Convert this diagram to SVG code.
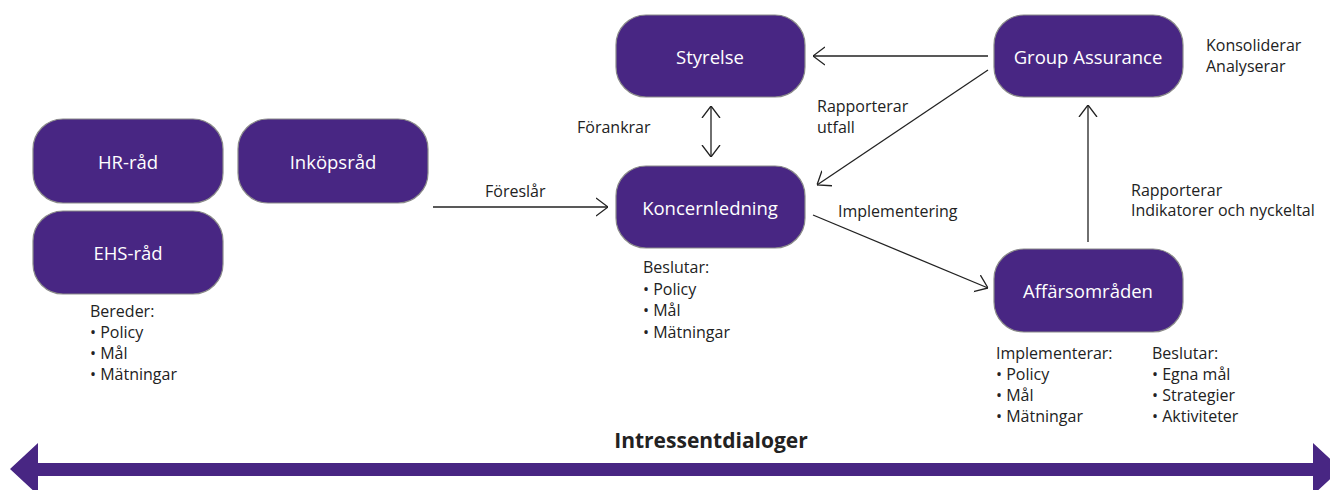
<svg xmlns="http://www.w3.org/2000/svg" width="1330" height="490" viewBox="0 0 1330 490">
<style>
.node rect{fill:#482683;stroke:#8a8a8a;stroke-width:1.2}
.node text{fill:#ffffff;font-family:"Open Sans","Liberation Sans",sans-serif;font-size:18.5px;text-anchor:middle;dominant-baseline:central}
.lbl{fill:#222222;font-family:"Open Sans","Liberation Sans",sans-serif;font-size:16px}
.conn line{stroke:#222222;stroke-width:1.3;fill:none}
.title{fill:#222222;font-family:"Open Sans","Liberation Sans",sans-serif;font-size:21px;font-weight:bold;text-anchor:middle}
</style>
<defs>
<marker id="ah" markerUnits="userSpaceOnUse" viewBox="0 0 12 20" refX="12" refY="10" markerWidth="12" markerHeight="20" orient="auto-start-reverse">
<path d="M0,1 L12,10 L0,19" fill="none" stroke="#222222" stroke-width="1.3"/>
</marker>
</defs>
<rect width="1330" height="490" fill="#ffffff"/>

<g id="hr-rad" class="node"><rect x="33" y="119" width="190" height="84" rx="30"/><text x="128" y="161">HR-råd</text></g>
<g id="inkopsrad" class="node"><rect x="238" y="119" width="190" height="84" rx="30"/><text x="333" y="161">Inköpsråd</text></g>
<g id="ehs-rad" class="node"><rect x="33" y="211" width="190" height="83" rx="30"/><text x="128" y="252">EHS-råd</text></g>
<g id="styrelse" class="node"><rect x="616" y="15" width="189" height="82" rx="30"/><text x="710" y="56">Styrelse</text></g>
<g id="koncernledning" class="node"><rect x="616" y="166" width="189" height="82" rx="30"/><text x="710" y="207">Koncernledning</text></g>
<g id="group-assurance" class="node"><rect x="994" y="15" width="189" height="82" rx="30"/><text x="1088" y="56">Group Assurance</text></g>
<g id="affarsomraden" class="node"><rect x="994" y="249" width="189" height="83" rx="30"/><text x="1088" y="290">Affärsområden</text></g>

<g id="connectors" class="conn">
<line x1="433" y1="207" x2="608" y2="207" marker-end="url(#ah)"/>
<line x1="711" y1="106" x2="711" y2="157" marker-start="url(#ah)" marker-end="url(#ah)"/>
<line x1="988" y1="56" x2="813" y2="56" marker-end="url(#ah)"/>
<line x1="988" y1="70" x2="817" y2="185" marker-end="url(#ah)"/>
<line x1="813" y1="215" x2="988" y2="288" marker-end="url(#ah)"/>
<line x1="1088" y1="242" x2="1088" y2="105" marker-end="url(#ah)"/>
</g>

<g id="labels">
<text class="lbl" x="485" y="197">Föreslår</text>
<text class="lbl" x="577" y="133">Förankrar</text>
<text class="lbl" x="817" y="112">Rapporterar</text>
<text class="lbl" x="817" y="133">utfall</text>
<text class="lbl" x="838" y="217">Implementering</text>
<text class="lbl" x="1131" y="196">Rapporterar</text>
<text class="lbl" x="1131" y="216">Indikatorer och nyckeltal</text>
<text class="lbl" x="1206" y="51">Konsoliderar</text>
<text class="lbl" x="1206" y="72">Analyserar</text>
<text class="lbl" x="90" y="317">Bereder:</text>
<text class="lbl" x="90" y="338">• Policy</text>
<text class="lbl" x="90" y="359">• Mål</text>
<text class="lbl" x="90" y="380">• Mätningar</text>
<text class="lbl" x="643" y="273">Beslutar:</text>
<text class="lbl" x="643" y="295">• Policy</text>
<text class="lbl" x="643" y="316">• Mål</text>
<text class="lbl" x="643" y="338">• Mätningar</text>
<text class="lbl" x="996" y="359">Implementerar:</text>
<text class="lbl" x="996" y="380">• Policy</text>
<text class="lbl" x="996" y="401">• Mål</text>
<text class="lbl" x="996" y="422">• Mätningar</text>
<text class="lbl" x="1152" y="359">Beslutar:</text>
<text class="lbl" x="1152" y="380">• Egna mål</text>
<text class="lbl" x="1152" y="401">• Strategier</text>
<text class="lbl" x="1152" y="422">• Aktiviteter</text>
</g>

<g id="intressentdialoger">
<text class="title" x="711" y="448">Intressentdialoger</text>
<path d="M10,469 L38,443 L38,463 L1313,463 L1313,443 L1341,469 L1313,495 L1313,476 L38,476 L38,495 Z" fill="#482683"/>
</g>
</svg>
